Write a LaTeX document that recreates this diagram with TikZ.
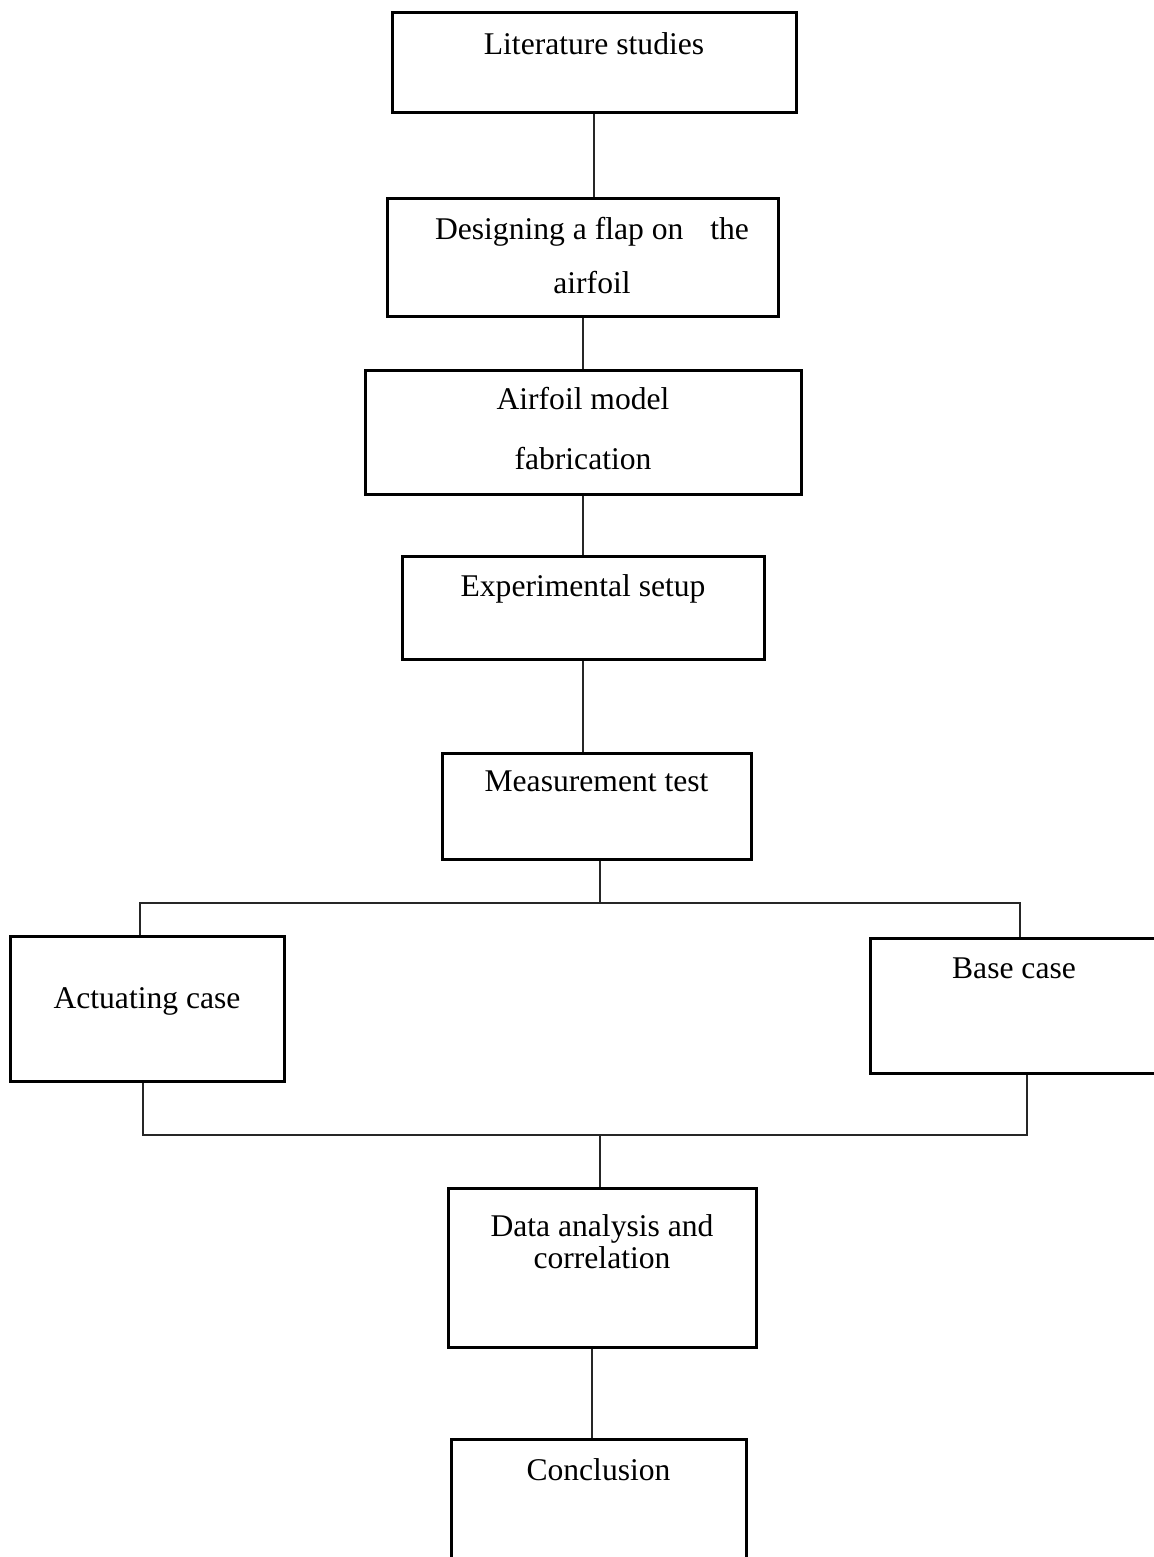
\documentclass[tikz,border=0pt]{standalone}
\usepackage{fontspec}
\setmainfont{Liberation Serif}

\begin{document}
\begin{tikzpicture}[x=0.5pt, y=-0.5pt,
  stage/.style={draw, line width=1.5pt, anchor=north, align=center, inner ysep=0pt, font=\fontsize{15.8}{27}\selectfont},
  link/.style={line width=0.6pt, black!85},
]
\useasboundingbox (0,0) rectangle (1153,1557);
% main column
\node[stage, minimum width=202pt, text height=21pt, text depth=29pt] (lit) at (594,11) {Literature studies};
\node[stage, minimum width=195.5pt, text height=47.5pt, text depth=11.5pt] (des) at (582.5,197)
  {\hspace*{9.5pt}Designing a flap on\hspace{9.5pt} the\\\hspace*{9.5pt}airfoil};
\node[stage, minimum width=218pt, text height=49.5pt, text depth=12.5pt, font=\fontsize{15.8}{30}\selectfont] (fab) at (583,369)
  {Airfoil model\\fabrication};
\node[stage, minimum width=181pt, text height=20pt, text depth=31.5pt] (setup) at (583,555) {Experimental setup};
\node[stage, minimum width=154.5pt, text height=19pt, text depth=34pt] (meas) at (596.5,752) {Measurement test};
% the two cases
\node[stage, minimum width=137pt, text height=36pt, text depth=36.5pt] (act) at (147,935) {Actuating case};
\node[stage, minimum width=144pt, text height=20pt, text depth=47.5pt] (base) at (1014,937) {Base case};
% end of the chain
\node[stage, minimum width=154pt, text height=40pt, text depth=39.5pt, font=\fontsize{15.8}{16}\selectfont] (data) at (602,1187)
  {Data analysis and\\correlation};
\node[stage, minimum width=147.5pt, text height=20.5pt, text depth=60pt] (conc) at (598.5,1438) {Conclusion};

\coordinate (split) at (600,903);
\coordinate (join) at (600,1135);

\draw[link] (lit.south) -- (lit.south |- des.north);
\draw[link] (fab.north |- des.south) -- (fab.north);
\draw[link] (fab.south) -- (fab.south |- setup.north);
\draw[link] (setup.south) -- (setup.south |- meas.north);
\draw[link] (meas.south -| split) -- (split);
\draw[link] ([xshift=-3.5pt]act.north) |- (split) -| ([xshift=3pt]base.north);
\draw[link] ([xshift=-2pt]act.south) |- (join) -| ([xshift=6.5pt]base.south);
\draw[link] (join) -- (data.north -| join);
\draw[link] ([xshift=-5pt]data.south) -- ([xshift=-5pt]data.south |- conc.north);
\end{tikzpicture}
\end{document}
